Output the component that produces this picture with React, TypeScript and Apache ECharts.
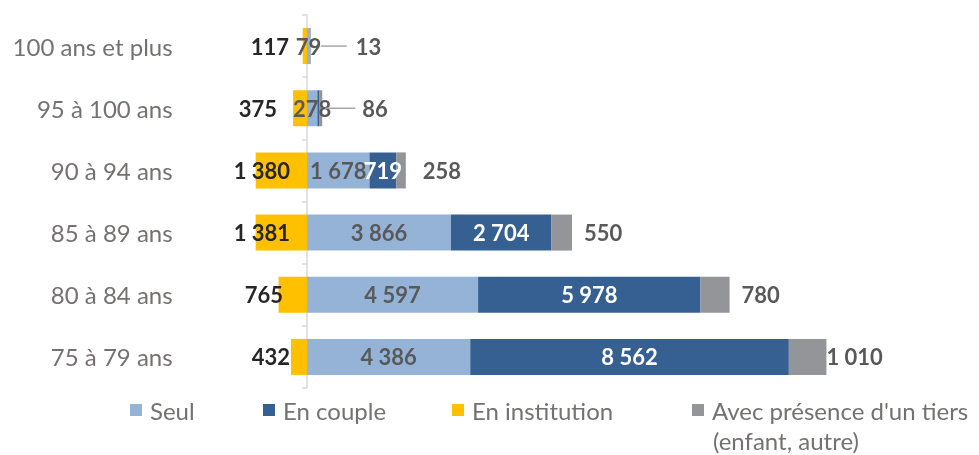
import React, { useEffect, useRef } from "react";
import * as echarts from "echarts";

const categories = ["75 à 79 ans", "80 à 84 ans", "85 à 89 ans", "90 à 94 ans", "95 à 100 ans", "100 ans et plus"];
const seul = [4386, 4597, 3866, 1678, 278, 79];
const enCouple = [8562, 5978, 2704, 719, 45, 8];
const enInstitution = [432, 765, 1381, 1380, 375, 117];
const tiers = [1010, 780, 550, 258, 86, 13];
const seriesNames = ["Seul", "En couple", "En institution", "Avec présence d'un tiers"];
const tiersSecondLine = "(enfant, autre)";

const fmt = (n: number) => String(Math.abs(n)).replace(/\B(?=(\d{3})+(?!\d))/g, " ");

const FONT = "Lato, 'Liberation Sans', sans-serif";

export default function App() {
  const ref = useRef<HTMLDivElement>(null);
  useEffect(() => {
    if (!ref.current) return;
    const chart = echarts.init(ref.current, undefined, { renderer: "svg" });

    const instDistance = [17, 24, 17, 17, 30, 18];
    const tiersDistance = [0, 12, 12, 17, 3, 10];
    const leader = [0, 0, 0, 0, 30, 26];
    const leaderGap = [0, 0, 0, 0, 7, 9];
    const labelBase = { fontFamily: FONT, fontWeight: "bold" as const, fontSize: 22 };

    const legendLefts = [130, 263, 452, 692];
    const colors = ["#95b3d7", "#376092", "#ffc000", "#939598"];

    const option: any = {
      animation: false,
      textStyle: { fontFamily: FONT },
      grid: { left: 232.6, right: 151, top: 15, bottom: 67, containLabel: false },
      xAxis: {
        type: "value",
        min: -2000,
        max: 14000,
        axisLine: { show: false },
        axisTick: { show: false },
        axisLabel: { show: false },
        splitLine: { show: false },
      },
      yAxis: [
        {
          type: "category",
          data: categories,
          position: "left",
          axisLine: { show: false, onZero: false },
          axisTick: { show: false },
          axisLabel: { margin: 60, fontSize: 24, color: "#767171", fontFamily: FONT },
        },
        {
          type: "category",
          data: categories,
          position: "left",
          axisLine: { show: true, onZero: true, lineStyle: { color: "#d9d9d9", width: 1.5 } },
          axisTick: { show: true, length: 5, lineStyle: { color: "#d9d9d9", width: 1.5 } },
          axisLabel: { show: false },
        },
      ],
      legend: seriesNames.map((name, i) => ({
        data: [name],
        left: legendLefts[i],
        top: 398,
        padding: 0,
        itemWidth: 12,
        itemHeight: 12,
        icon: "rect",
        textStyle: { fontSize: 24, color: "#767171", fontFamily: FONT, padding: [0, 0, 0, 3] },
      })),
      graphic: [
        {
          type: "text",
          left: 713,
          top: 428,
          style: { text: tiersSecondLine, fontSize: 24, fill: "#767171", fontFamily: FONT },
        },
      ],
      series: [
        {
          name: seriesNames[0],
          type: "bar",
          stack: "total",
          barWidth: 36,
          itemStyle: { color: colors[0] },
          label: { show: true, position: "inside", color: "#595959", ...labelBase, formatter: (p: any) => fmt(p.value) },
          data: seul,
        },
        {
          name: seriesNames[1],
          type: "bar",
          stack: "total",
          barWidth: 36,
          itemStyle: { color: colors[1] },
          data: enCouple.map((v, i) => ({
            value: v,
            label: { show: i < 4, position: "inside", color: "#ffffff", ...labelBase, formatter: (p: any) => fmt(p.value) },
          })),
        },
        {
          name: seriesNames[2],
          type: "bar",
          stack: "total",
          barWidth: 36,
          itemStyle: { color: colors[2] },
          data: enInstitution.map((v, i) => ({
            value: -v,
            label: {
              show: true,
              position: "insideRight",
              distance: instDistance[i],
              color: "#262626",
              ...labelBase,
              formatter: (p: any) => fmt(p.value),
            },
          })),
        },
        {
          name: seriesNames[3],
          type: "bar",
          stack: "total",
          barWidth: 36,
          itemStyle: { color: colors[3] },
          data: tiers.map((v, i) => ({
            value: v,
            label: {
              show: true,
              position: "right",
              distance: tiersDistance[i],
              color: "#595959",
              ...labelBase,
              formatter: (p: any) =>
                leader[i] > 0 ? `{ln|}{gap|}${fmt(p.value)}` : fmt(p.value),
              rich: {
                ln: { width: leader[i], height: 1.5, backgroundColor: "#a6a6a6" },
                gap: { width: leaderGap[i], height: 1 },
              },
            },
          })),
        },
      ],
    };
    chart.setOption(option);
    return () => chart.dispose();
  }, []);
  return <div ref={ref} style={{ position: "fixed", left: 0, top: 0, width: 979, height: 455 }} />;
}
